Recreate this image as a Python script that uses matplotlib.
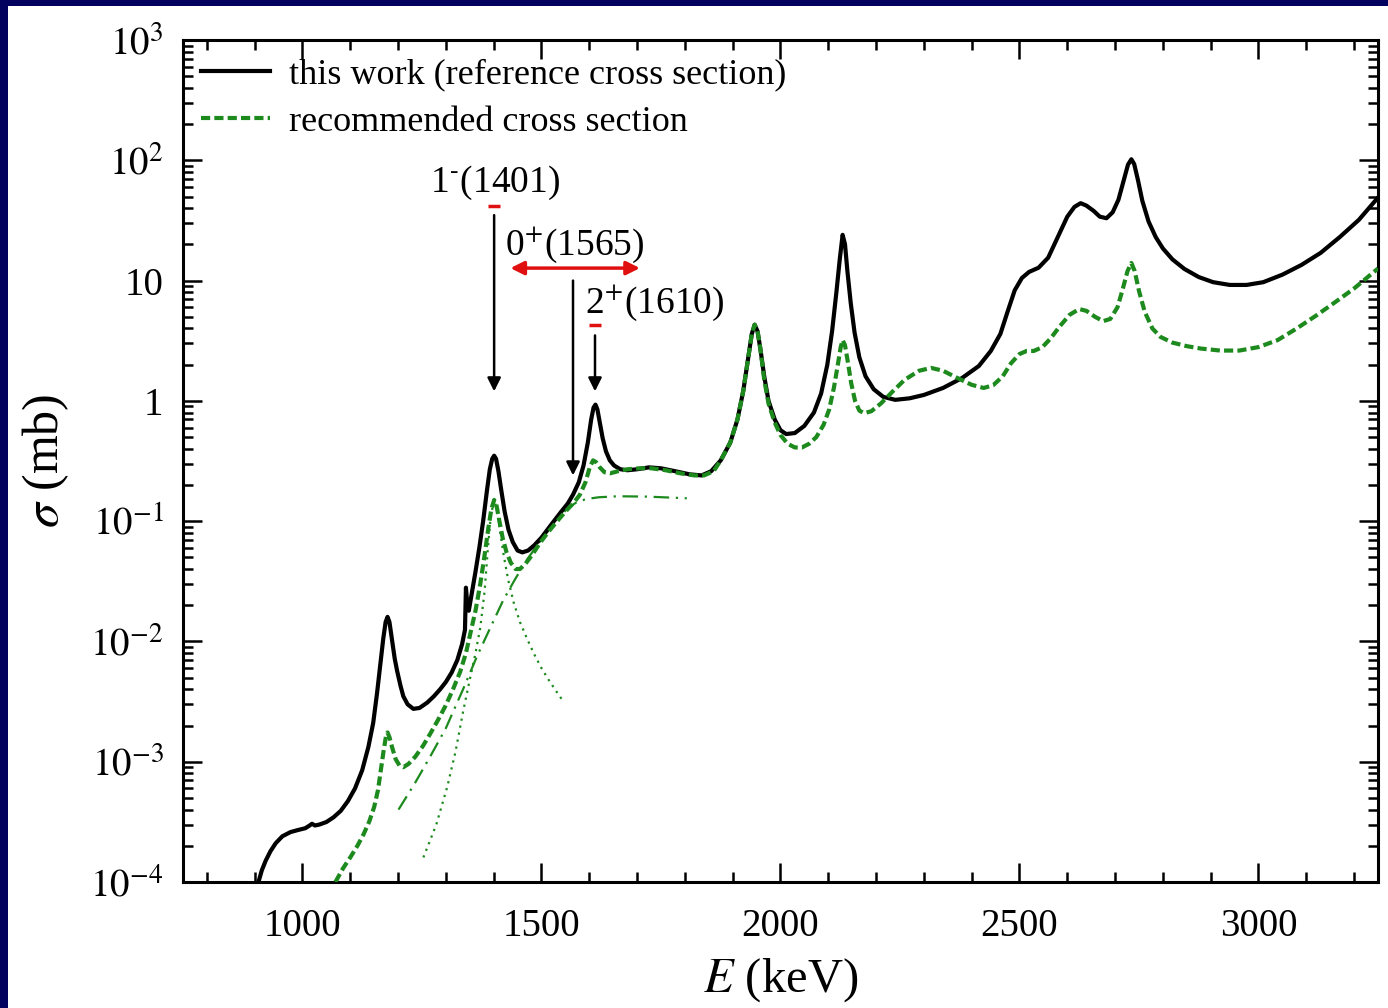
import numpy as np
import matplotlib
matplotlib.use("Agg")
import matplotlib.pyplot as plt
from matplotlib.patches import Rectangle
from matplotlib.ticker import FixedLocator, FixedFormatter, MultipleLocator, LogLocator, NullFormatter

# total cross section, this work (E in keV, sigma in mb)
E_this = [908, 915, 923, 933, 944, 958, 975, 990, 1006, 1015, 1020, 1026, 1035, 1050, 1065,
          1080, 1095, 1110, 1125, 1138, 1148, 1156, 1163, 1169, 1174, 1178, 1182, 1187, 1193,
          1198, 1205, 1211, 1220, 1232, 1245, 1261, 1275, 1288, 1300, 1312, 1324, 1334, 1340,
          1342, 1345, 1348, 1355, 1362, 1370, 1378, 1386, 1392, 1397, 1401, 1405, 1410, 1416,
          1423, 1431, 1440, 1450, 1460, 1472, 1485, 1500, 1520, 1540, 1555, 1566, 1578, 1588,
          1597, 1604, 1609, 1613, 1617, 1622, 1628, 1635, 1643, 1652, 1665, 1680, 1700, 1725,
          1750, 1780, 1810, 1835, 1855, 1875, 1895, 1910, 1922, 1932, 1940, 1946, 1952, 1958,
          1966, 1975, 1988, 2000, 2012, 2030, 2050, 2070, 2085, 2098, 2108, 2117, 2124, 2130,
          2135, 2140, 2147, 2155, 2165, 2178, 2195, 2215, 2240, 2270, 2300, 2340, 2380, 2415,
          2440, 2460, 2475, 2490, 2505, 2520, 2540, 2560, 2580, 2600, 2615, 2628, 2640, 2655,
          2668, 2682, 2695, 2707, 2718, 2727, 2734, 2740, 2748, 2757, 2770, 2785, 2800, 2820,
          2845, 2875, 2905, 2940, 2975, 3010, 3050, 3090, 3130, 3170, 3210, 3250]
sig_this = [1.0e-4, 1.25e-4, 1.5e-4, 1.8e-4, 2.1e-4, 2.4e-4, 2.6e-4, 2.7e-4, 2.8e-4, 2.95e-4,
            3.05e-4, 2.95e-4, 3.0e-4, 3.15e-4, 3.45e-4, 3.9e-4, 4.7e-4, 6.0e-4, 8.5e-4, 1.33e-3,
            2.1e-3, 3.7e-3, 6.5e-3, 1.05e-2, 1.45e-2, 1.6e-2, 1.45e-2, 1.05e-2, 7.2e-3, 5.7e-3,
            4.3e-3, 3.5e-3, 3.0e-3, 2.75e-3, 2.8e-3, 3.1e-3, 3.5e-3, 4.0e-3, 4.6e-3, 5.5e-3,
            7.0e-3, 9.5e-3, 1.25e-2, 2.8e-2, 2.0e-2, 1.8e-2, 2.6e-2, 3.8e-2, 6.0e-2, 0.10, 0.18,
            0.27, 0.33, 0.35, 0.33, 0.26, 0.18, 0.12, 0.085, 0.067, 0.057, 0.055, 0.057, 0.063,
            0.073, 0.093, 0.118, 0.14, 0.166, 0.21, 0.29, 0.45, 0.70, 0.88, 0.93, 0.85, 0.66,
            0.49, 0.38, 0.32, 0.29, 0.27, 0.265, 0.27, 0.28, 0.275, 0.26, 0.245, 0.24, 0.26,
            0.32, 0.45, 0.70, 1.2, 2.2, 3.6, 4.3, 3.8, 2.7, 1.6, 1.0, 0.70, 0.57, 0.53, 0.54,
            0.62, 0.80, 1.15, 2.0, 3.8, 8.0, 15.0, 24.0, 20.0, 12.0, 6.5, 3.7, 2.3, 1.6, 1.25,
            1.08, 1.02, 1.05, 1.12, 1.28, 1.55, 1.95, 2.6, 3.6, 5.5, 8.3, 10.5, 11.8, 12.8, 15.5,
            23.0, 34.0, 41.0, 44.0, 42.0, 38.0, 34.0, 33.0, 37.0, 47.0, 68.0, 92.0, 102.0, 93.0,
            68.0, 46.0, 31.0, 23.0, 18.5, 15.0, 12.5, 10.7, 9.7, 9.2, 9.2, 9.7, 11.2, 13.5, 17.0,
            23.0, 32.0, 49.0]

# recommended cross section
E_rec = [1069, 1085, 1100, 1115, 1128, 1140, 1150, 1158, 1164, 1170, 1175, 1178, 1182, 1188,
         1195, 1203, 1211, 1222, 1236, 1252, 1267, 1283, 1299, 1315, 1330, 1342, 1352, 1362,
         1372, 1381, 1389, 1395, 1401, 1406, 1412, 1419, 1427, 1436, 1446, 1455, 1466, 1480,
         1497, 1515, 1533, 1550, 1566, 1580, 1592, 1601, 1608, 1614, 1622, 1632, 1644, 1660,
         1680, 1705, 1730, 1760, 1790, 1820, 1840, 1860, 1875, 1895, 1910, 1922, 1932, 1940,
         1946, 1952, 1958, 1966, 1975, 1988, 2000, 2015, 2030, 2045, 2060, 2075, 2090, 2102,
         2112, 2120, 2126, 2130, 2135, 2141, 2148, 2156, 2165, 2175, 2190, 2210, 2235, 2260,
         2290, 2315, 2340, 2370, 2400, 2425, 2445, 2465, 2482, 2500, 2515, 2530, 2548, 2565,
         2585, 2605, 2625, 2640, 2658, 2675, 2690, 2705, 2716, 2726, 2734, 2741, 2750, 2762,
         2778, 2795, 2820, 2850, 2880, 2920, 2960, 3000, 3040, 3080, 3120, 3160, 3200, 3250]
sig_rec = [1.0e-4, 1.3e-4, 1.6e-4, 2.0e-4, 2.5e-4, 3.2e-4, 4.2e-4, 5.8e-4, 8.5e-4, 1.25e-3,
           1.65e-3, 1.75e-3, 1.6e-3, 1.3e-3, 1.05e-3, 9.3e-4, 9.0e-4, 9.6e-4, 1.1e-3, 1.35e-3,
           1.7e-3, 2.2e-3, 2.9e-3, 4.0e-3, 5.6e-3, 8.0e-3, 1.2e-2, 1.8e-2, 3.0e-2, 5.2e-2,
           8.8e-2, 0.125, 0.15, 0.135, 0.10, 0.072, 0.055, 0.045, 0.040, 0.040, 0.044, 0.052,
           0.066, 0.082, 0.10, 0.12, 0.14, 0.165, 0.21, 0.28, 0.32, 0.31, 0.28, 0.255, 0.25,
           0.26, 0.27, 0.275, 0.275, 0.265, 0.25, 0.24, 0.24, 0.26, 0.32, 0.45, 0.70, 1.2, 2.2,
           3.6, 4.3, 3.8, 2.7, 1.5, 0.95, 0.66, 0.52, 0.44, 0.41, 0.41, 0.44, 0.50, 0.63, 0.85,
           1.3, 2.0, 2.8, 3.2, 2.9, 2.1, 1.4, 1.0, 0.83, 0.79, 0.82, 0.95, 1.2, 1.5, 1.78, 1.88,
           1.78, 1.55, 1.36, 1.28, 1.35, 1.6, 2.05, 2.45, 2.6, 2.6, 2.8, 3.3, 4.2, 5.2, 5.8,
           5.6, 5.0, 4.6, 4.8, 6.0, 8.5, 12.0, 14.0, 12.0, 8.2, 5.5, 4.0, 3.4, 3.05, 2.85, 2.72,
           2.62, 2.62, 2.8, 3.2, 4.0, 5.1, 6.6, 8.6, 12.6]

# single-resonance component at 1401 keV
E_res1401 = [1253, 1280, 1303, 1320, 1336, 1350, 1362, 1372, 1381, 1388, 1394, 1401, 1406, 1412,
             1420, 1430, 1442, 1455, 1470, 1485, 1500, 1515, 1530, 1545]
sig_res1401 = [1.6e-4, 3.0e-4, 6.2e-4, 1.2e-3, 2.6e-3, 4.8e-3, 8.0e-3, 1.3e-2, 2.6e-2, 6.0e-2,
               0.11, 0.15, 0.13, 0.09, 0.055, 0.033, 0.021, 0.0145, 0.0105, 7.8e-3, 6.0e-3,
               4.8e-3, 3.9e-3, 3.2e-3]

# broad component under the 1565/1610 keV states
E_broad = [1201, 1235, 1267, 1300, 1336, 1365, 1393, 1420, 1445, 1470, 1497, 1530, 1555, 1575,
           1595, 1620, 1660, 1720, 1804]
sig_broad = [4.0e-4, 6.6e-4, 1.1e-3, 1.9e-3, 4.0e-3, 7.5e-3, 1.3e-2, 2.2e-2, 3.3e-2, 4.8e-2,
             6.8e-2, 0.10, 0.128, 0.145, 0.153, 0.158, 0.161, 0.16, 0.155]

y_ticks = [1e-4, 1e-3, 1e-2, 1e-1, 1, 10, 100, 1000]
y_ticklabels = [r'$10^{-4}$', r'$10^{-3}$', r'$10^{-2}$', r'$10^{-1}$', '1', '10',
                r'$10^{2}$', r'$10^{3}$']
x_ticks = [1000, 1500, 2000, 2500, 3000]

plt.rcParams['font.family'] = ['Liberation Serif', 'DejaVu Serif']
plt.rcParams['mathtext.fontset'] = 'stix'

GREEN = '#1d8a1d'
RED = '#e01010'

fig = plt.figure(figsize=(13.88, 10.08), dpi=100)
fig.patch.set_facecolor('#03035f')
fig.patches.append(Rectangle((8 / 1388, 0), 1, 1 - 6 / 1008, transform=fig.transFigure,
                             facecolor='white', edgecolor='none', zorder=-10))

ax = fig.add_axes([0.1318, 0.125, 0.8610, 0.8353])

ax.plot(E_this, sig_this, color='black', lw=3.0, label='this work (reference cross section)',
        zorder=4)
ax.plot(E_rec, sig_rec, color=GREEN, lw=3.0, linestyle=(0, (2.2, 1.0)),
        label='recommended cross section', zorder=5)
ax.plot(E_res1401, sig_res1401, color=GREEN, lw=1.6, linestyle=(0, (1, 2.2)), zorder=3)
ax.plot(E_broad, sig_broad, color=GREEN, lw=1.6, linestyle=(0, (7, 3, 1, 3)), zorder=3)

ax.set_yscale('log')
ax.set_xlim(750, 3250)
ax.set_ylim(1e-4, 1e3)

ax.yaxis.set_major_locator(FixedLocator(y_ticks))
ax.yaxis.set_major_formatter(FixedFormatter(y_ticklabels))
ax.yaxis.set_minor_locator(LogLocator(base=10, subs=np.arange(2, 10), numticks=20))
ax.yaxis.set_minor_formatter(NullFormatter())
ax.xaxis.set_major_locator(FixedLocator(x_ticks))
ax.xaxis.set_minor_locator(MultipleLocator(100))

ax.tick_params(which='both', direction='in', top=True, right=True, width=1.8, labelsize=28)
ax.tick_params(axis='x', pad=19)
ax.tick_params(axis='y', pad=14)
ax.tick_params(which='major', length=14)
ax.tick_params(which='minor', length=7)
for sp in ax.spines.values():
    sp.set_linewidth(2.2)

ax.set_xlabel(r'$E$ (keV)', fontsize=35, labelpad=8)
ax.set_ylabel(r'$\sigma$ (mb)', fontsize=36, labelpad=14)

# level markers
arrow = dict(arrowstyle='-|>', color='black', lw=1.8, mutation_scale=20, shrinkA=0, shrinkB=0)
ax.annotate('', xy=(1401, 1.2), xytext=(1401, 35), arrowprops=arrow, zorder=6)
ax.annotate('', xy=(1566, 0.24), xytext=(1566, 10), arrowprops=arrow, zorder=6)
ax.annotate('', xy=(1612, 1.2), xytext=(1612, 3.5), arrowprops=arrow, zorder=6)
ax.annotate('', xy=(1435, 12.7), xytext=(1706, 12.7),
            arrowprops=dict(arrowstyle='<|-|>', color=RED, lw=2.5, mutation_scale=20,
                            shrinkA=0, shrinkB=0), zorder=6)

ax.text(1403, 65, r'1$^{\text{-}}$(1401)', fontsize=27, ha='center', va='center')
ax.text(1424, 20, r'0$^{+}$(1565)', fontsize=27, ha='left', va='center')
ax.text(1591, 6.5, r'2$^{+}$(1610)', fontsize=27, ha='left', va='center')
ax.plot([1389, 1413], [42, 42], color=RED, lw=2.5, solid_capstyle='butt')
ax.plot([1600, 1624], [4.3, 4.3], color=RED, lw=2.5, solid_capstyle='butt')

ax.legend(loc='upper left', frameon=False, fontsize=26, handlelength=1.9,
          handletextpad=0.55, labelspacing=0.4, borderaxespad=0.3, borderpad=0.2)

fig.savefig('out.png', dpi=100, facecolor=fig.get_facecolor())
